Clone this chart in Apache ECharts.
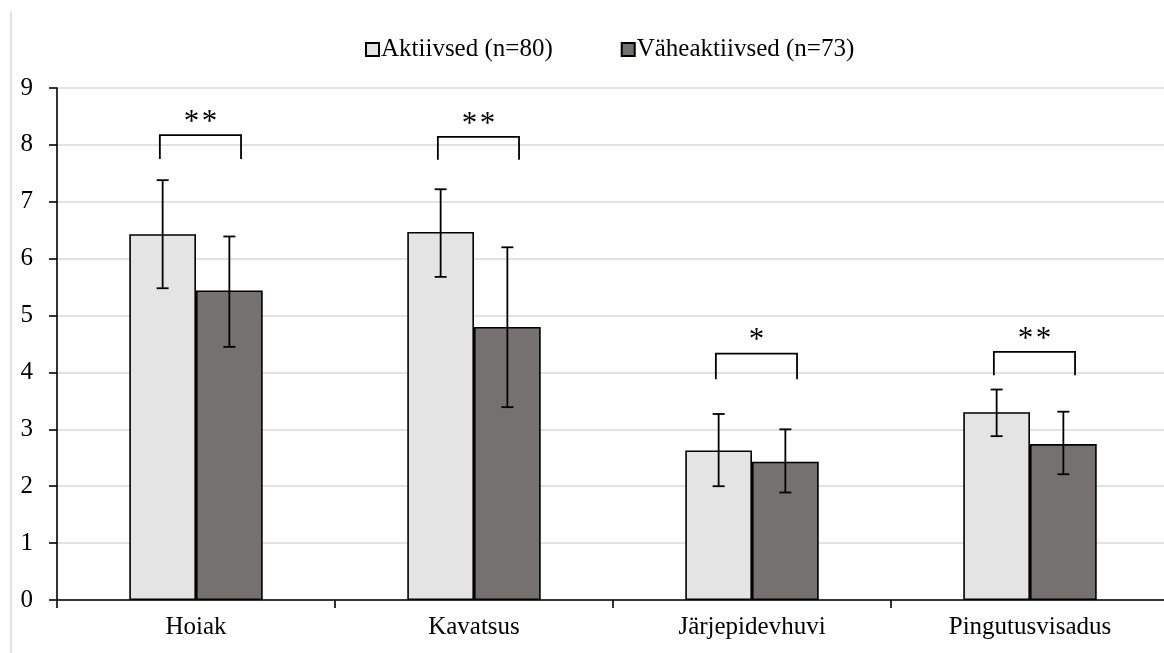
<!DOCTYPE html>
<html lang="et">
<head>
    <meta charset="UTF-8">
    <title>Aktiivsed vs väheaktiivsed</title>
    <script src="https://cdn.jsdelivr.net/npm/echarts@6/dist/echarts.min.js"></script>
    <style>
        html, body { margin: 0; padding: 0; background: #fff; overflow: hidden; }
        #chart { width: 1169px; height: 653px; }
    </style>
</head>
<body>
    <div id="chart"></div>
    <script type="text/javascript">
        // andmed
        var categories = ['Hoiak', 'Kavatsus', 'Järjepidevhuvi', 'Pingutusvisadus'];
        var activeMean = [6.43, 6.47, 2.63, 3.30];
        var activeLow = [5.48, 5.68, 2.00, 2.88];
        var activeHigh = [7.38, 7.22, 3.27, 3.70];
        var lessMean = [5.44, 4.80, 2.43, 2.74];
        var lessLow = [4.45, 3.39, 1.89, 2.21];
        var lessHigh = [6.39, 6.20, 3.00, 3.31];
        var sigMarks = ['**', '**', '*', '**'];
        var sigTop = [8.17, 8.14, 4.33, 4.36];
        var sigLeg = [7.75, 7.74, 3.88, 3.95];
        var yTicks = [0, 1, 2, 3, 4, 5, 6, 7, 8, 9];

        var FONT = '"Liberation Serif", "Times New Roman", serif';

        //veajooned
        function errorBars(offset) {
            return function (params, api) {
                var i = api.value(0);
                var lo = api.coord([i, api.value(1)]);
                var hi = api.coord([i, api.value(2)]);
                var band = api.size([1, 0])[0];
                var x = lo[0] + offset * band;
                var cap = 6;
                var st = { stroke: '#000', lineWidth: 1.8 };
                return {
                    type: 'group',
                    children: [
                        { type: 'line', shape: { x1: x, y1: lo[1], x2: x, y2: hi[1] }, style: st },
                        { type: 'line', shape: { x1: x - cap, y1: hi[1], x2: x + cap, y2: hi[1] }, style: st },
                        { type: 'line', shape: { x1: x - cap, y1: lo[1], x2: x + cap, y2: lo[1] }, style: st }
                    ]
                };
            };
        }

        //olulisuse sulud
        function brackets(params, api) {
            var i = api.value(0);
            var top = api.coord([i, api.value(1)]);
            var leg = api.coord([i, api.value(2)]);
            var band = api.size([1, 0])[0];
            var xl = top[0] - 0.13 * band;
            var xr = top[0] + 0.162 * band;
            var st = { stroke: '#000', lineWidth: 1.8, fill: null };
            return {
                type: 'group',
                children: [
                    {
                        type: 'polyline',
                        shape: { points: [[xl, leg[1]], [xl, top[1]], [xr, top[1]], [xr, leg[1]]] },
                        style: st
                    },
                    {
                        type: 'text',
                        style: {
                            text: sigMarks[params.dataIndex].split('').join('\u200A'),
                            x: (xl + xr) / 2,
                            y: top[1] + 3,
                            align: 'center',
                            verticalAlign: 'bottom',
                            font: '31px ' + FONT,
                            fill: '#000'
                        }
                    }
                ]
            };
        }

        var chart = echarts.init(document.getElementById('chart'));
        var option = {
            animation: false,
            backgroundColor: '#fff',
            textStyle: { fontFamily: FONT },
            graphic: [{
                type: 'line',
                shape: { x1: 11, y1: 12, x2: 11, y2: 653 },
                style: { stroke: '#d9d9d9', lineWidth: 1.5 }
            }],
            legend: {
                data: ['Aktiivsed (n=80)', 'Väheaktiivsed (n=73)'],
                left: 360,
                top: 32,
                icon: 'rect',
                itemWidth: 13,
                itemHeight: 13,
                itemGap: 68,
                textStyle: { fontFamily: FONT, fontSize: 25, color: '#000', padding: [0, 0, 0, -3] }
            },
            grid: {
                left: 57,
                right: 0,
                top: 88,
                bottom: 53
            },
            xAxis: {
                type: 'category',
                data: categories,
                axisLine: { lineStyle: { color: '#000', width: 1.6 } },
                axisTick: { show: true, length: 8, lineStyle: { color: '#000', width: 1.6 } },
                axisLabel: { fontFamily: FONT, fontSize: 25, color: '#000', margin: 15 }
            },
            yAxis: {
                type: 'value',
                min: yTicks[0],
                max: yTicks[yTicks.length - 1],
                interval: 1,
                axisLine: { show: true, lineStyle: { color: '#000', width: 1.6 } },
                axisTick: { show: true, length: 8, lineStyle: { color: '#000', width: 1.6 } },
                axisLabel: { fontFamily: FONT, fontSize: 25, color: '#000', margin: 24 },
                splitLine: { lineStyle: { color: '#d9d9d9', width: 1.6 } }
            },
            series: [
                {
                    name: 'Aktiivsed (n=80)',
                    type: 'bar',
                    data: activeMean,
                    barWidth: '24%',
                    barGap: '0%',
                    itemStyle: { color: '#e4e4e4', borderColor: '#000', borderWidth: 1.6 }
                },
                {
                    name: 'Väheaktiivsed (n=73)',
                    type: 'bar',
                    data: lessMean,
                    barWidth: '24%',
                    barGap: '0%',
                    itemStyle: { color: '#767171', borderColor: '#000', borderWidth: 1.6 }
                },
                {
                    type: 'custom',
                    z: 5,
                    renderItem: errorBars(-0.12),
                    encode: { x: 0, y: [1, 2] },
                    data: categories.map(function (c, i) { return [i, activeLow[i], activeHigh[i]]; })
                },
                {
                    type: 'custom',
                    z: 5,
                    renderItem: errorBars(0.12),
                    encode: { x: 0, y: [1, 2] },
                    data: categories.map(function (c, i) { return [i, lessLow[i], lessHigh[i]]; })
                },
                {
                    type: 'custom',
                    z: 5,
                    renderItem: brackets,
                    encode: { x: 0, y: [1, 2] },
                    data: categories.map(function (c, i) { return [i, sigTop[i], sigLeg[i]]; })
                }
            ]
        };
        chart.setOption(option);
    </script>
</body>
</html>
